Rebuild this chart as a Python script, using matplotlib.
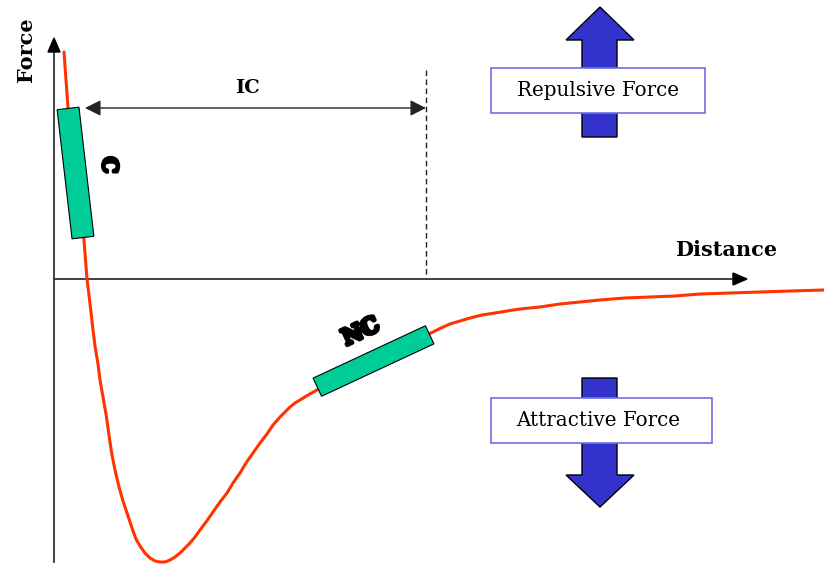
import matplotlib.pyplot as plt
from matplotlib.patches import Rectangle, Polygon, FancyArrowPatch
import matplotlib.transforms as mtransforms
import matplotlib.patheffects as pe

# force-distance curve (pixel coords, y down)
curve_x = [64, 66, 68, 72, 76, 80, 84, 87, 89, 91, 93, 95, 98, 100, 103, 106, 108, 110,
           112, 115, 119, 123, 127, 130, 133, 136, 140, 145, 150, 155, 160, 165, 170,
           175, 180, 185, 190, 195, 200, 206, 213, 220, 227, 233, 240, 246, 253, 260,
           267, 273, 280, 285, 290, 295, 300, 308, 317, 345, 375, 405, 433, 441, 450,
           460, 470, 482, 495, 507, 520, 540, 560, 580, 600, 625, 650, 675, 700, 730,
           760, 790, 824]
curve_y = [52, 80, 108, 140, 175, 210, 240, 279, 295, 312, 330, 346, 364, 380, 397, 414,
           428, 442, 455, 470, 487, 501, 513, 522, 531, 539, 546, 553, 558, 561, 562,
           562, 560, 557, 553, 548, 543, 537, 530, 522, 512, 502, 493, 483, 473, 463,
           453, 443, 434, 425, 417, 412, 407, 403, 400, 395, 390, 375, 360, 345, 332,
           328, 324, 321, 318, 315, 313, 311, 309, 307, 304, 302, 300, 298, 297, 296,
           294, 293, 292, 291, 290]

axis_labels = ["Force", "Distance"]
zone_labels = ["C", "NC"]
range_label = "IC"
force_labels = ["Repulsive Force", "Attractive Force"]

RED = "#ff3300"
GREEN = "#00cc99"
BLUE = "#3333cc"
BOX_EDGE = "#7070e8"

fig = plt.figure(figsize=(8.24, 5.7), dpi=100)
ax = fig.add_axes([0, 0, 1, 1])
ax.set_xlim(0, 824)
ax.set_ylim(570, 0)
ax.axis("off")

# axes with arrows
ax.plot([54, 54], [562, 50], color="#333333", lw=1.3, zorder=2)
ax.add_patch(Polygon([[48, 52], [60, 52], [54, 38]], closed=True, color="black", zorder=2))
ax.plot([54, 735], [279, 279], color="#333333", lw=1.3, zorder=2)
ax.add_patch(Polygon([[733, 273], [733, 285], [747, 279]], closed=True, color="black", zorder=2))

ax.text(26, 50, axis_labels[0], rotation=90, ha="center", va="center",
        fontsize=15, fontweight="bold", family="DejaVu Serif")
ax.text(726, 250, axis_labels[1], ha="center", va="center",
        fontsize=15, fontweight="bold", family="DejaVu Serif")

# IC range
ax.plot([426, 426], [70, 279], color="#222222", lw=1.0, ls=(0, (4, 2.5)), zorder=2)
ax.add_patch(FancyArrowPatch((85, 108), (426, 108), arrowstyle="<|-|>",
                             mutation_scale=24, color="#222222", lw=1.0,
                             shrinkA=0, shrinkB=0, zorder=2))
ax.text(248, 88, range_label, ha="center", va="center", fontsize=14,
        family="DejaVu Serif", fontweight="semibold")

# curve
ax.plot(curve_x, curve_y, color=RED, lw=2.2, zorder=3,
        solid_joinstyle="round", solid_capstyle="round")

# C box (near vertical)
c_box = Rectangle((-11, -65), 22, 130, facecolor=GREEN, edgecolor="black", lw=0.8, zorder=4)
c_box.set_transform(mtransforms.Affine2D().rotate_deg(-6.6).translate(75.5, 173) + ax.transData)
ax.add_patch(c_box)
ax.text(109, 165, zone_labels[0], rotation=-90, ha="center", va="center",
        fontsize=15, fontweight="heavy", family="DejaVu Serif", zorder=5,
        path_effects=[pe.withStroke(linewidth=2.5, foreground="black")])

# NC box (tilted)
nc_box = Rectangle((-62, -10), 124, 20, facecolor=GREEN, edgecolor="black", lw=0.8, zorder=4)
nc_box.set_transform(mtransforms.Affine2D().rotate_deg(-25).translate(373.5, 361) + ax.transData)
ax.add_patch(nc_box)
ax.text(361, 332, zone_labels[1], rotation=25, ha="center", va="center",
        fontsize=16, fontweight="heavy", family="DejaVu Serif", zorder=5,
        path_effects=[pe.withStroke(linewidth=3, foreground="black")])

# repulsive arrow (up)
up = [[582, 137], [617, 137], [617, 40], [634, 40], [600, 7], [566, 40], [582, 40]]
ax.add_patch(Polygon(up, closed=True, facecolor=BLUE, edgecolor="black", lw=1.0, zorder=2))
ax.add_patch(Rectangle((491, 68), 214, 45, facecolor="white", edgecolor=BOX_EDGE, lw=1.2, zorder=3))
ax.text(598, 91, force_labels[0], ha="center", va="center", fontsize=14.3,
        family="DejaVu Serif", zorder=4)

# attractive arrow (down)
down = [[582, 378], [617, 378], [617, 475], [634, 475], [600, 507], [566, 475], [582, 475]]
ax.add_patch(Polygon(down, closed=True, facecolor=BLUE, edgecolor="black", lw=1.0, zorder=2))
ax.add_patch(Rectangle((491, 398), 221, 45, facecolor="white", edgecolor=BOX_EDGE, lw=1.2, zorder=3))
ax.text(598, 420, force_labels[1], ha="center", va="center", fontsize=14.3,
        family="DejaVu Serif", zorder=4)

fig.savefig("out.png", dpi=100)
